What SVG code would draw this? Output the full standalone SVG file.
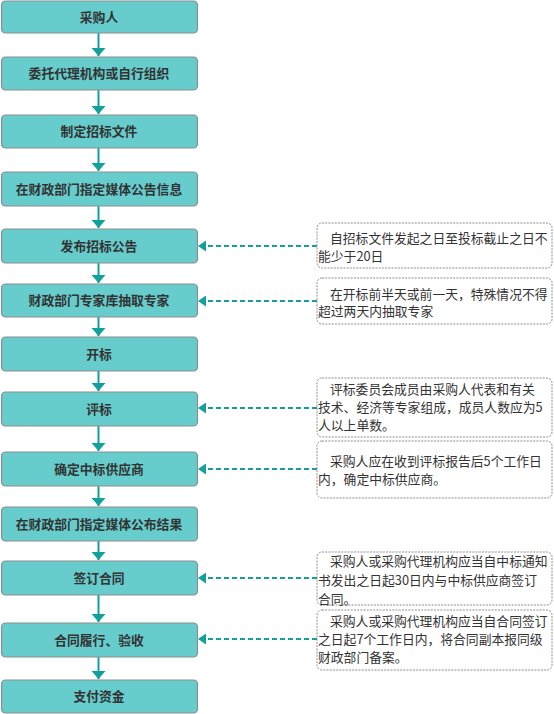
<svg xmlns="http://www.w3.org/2000/svg" width="554" height="714" viewBox="0 0 554 714">
<style>
.box{fill:#66CCCC;stroke:#8E8E8E;stroke-width:1.2}
.bt{font-family:"Noto Sans CJK SC","Noto Sans",sans-serif;font-size:12.8px;font-weight:bold;fill:#333;text-anchor:middle}
.note{fill:#fff;stroke:#8E8E8E;stroke-width:1;stroke-dasharray:2 1.2}
.nt{font-family:"Noto Sans CJK SC","Noto Sans",sans-serif;font-size:12.8px;fill:#333}
.va{stroke:#11A09C;stroke-width:2;fill:none;marker-end:url(#ah)}
.da{stroke:#11A09C;stroke-width:2;fill:none;stroke-dasharray:5 3;marker-end:url(#dh)}
</style>
<defs>
<marker id="ah" viewBox="0 0 10 10" refX="10" refY="5" markerWidth="8" markerHeight="14" markerUnits="userSpaceOnUse" orient="auto" preserveAspectRatio="none">
<path d="M0,0 L10,5 L0,10 z" fill="#11A09C"/>
</marker>
<marker id="dh" viewBox="0 0 10 10" refX="10" refY="5" markerWidth="8" markerHeight="11" markerUnits="userSpaceOnUse" orient="auto" preserveAspectRatio="none">
<path d="M0,0 L10,5 L0,10 z" fill="#11A09C"/>
</marker>
</defs>
<g id="connectors">
<line class="va" x1="98.5" y1="33" x2="98.5" y2="56"/>
<line class="va" x1="98.5" y1="90" x2="98.5" y2="114"/>
<line class="va" x1="98.5" y1="148" x2="98.5" y2="171"/>
<line class="va" x1="98.5" y1="206" x2="98.5" y2="228"/>
<line class="va" x1="98.5" y1="263" x2="98.5" y2="283"/>
<line class="va" x1="98.5" y1="317" x2="98.5" y2="336"/>
<line class="va" x1="98.5" y1="371" x2="98.5" y2="391"/>
<line class="va" x1="98.5" y1="426" x2="98.5" y2="451"/>
<line class="va" x1="98.5" y1="486" x2="98.5" y2="506"/>
<line class="va" x1="98.5" y1="541" x2="98.5" y2="560"/>
<line class="va" x1="98.5" y1="595" x2="98.5" y2="622"/>
<line class="va" x1="98.5" y1="657" x2="98.5" y2="679"/>
<line class="da" x1="317" y1="246" x2="198" y2="246"/>
<line class="da" x1="317" y1="301" x2="198" y2="301"/>
<line class="da" x1="317" y1="408" x2="198" y2="408"/>
<line class="da" x1="317" y1="469" x2="198" y2="469"/>
<line class="da" x1="317" y1="578" x2="198" y2="578"/>
<line class="da" x1="317" y1="639" x2="198" y2="639"/>
</g>
<g id="n1"><rect class="box" x="1.5" y="1" width="196" height="32" rx="4"/><text class="bt" x="99" y="21.5">采购人</text></g>
<g id="n2"><rect class="box" x="1.5" y="57" width="196" height="33" rx="4"/><text class="bt" x="99" y="78">委托代理机构或自行组织</text></g>
<g id="n3"><rect class="box" x="1.5" y="115" width="196" height="33" rx="4"/><text class="bt" x="99" y="136">制定招标文件</text></g>
<g id="n4"><rect class="box" x="1.5" y="172" width="196" height="34" rx="4"/><text class="bt" x="99" y="193.5">在财政部门指定媒体公告信息</text></g>
<g id="n5"><rect class="box" x="1.5" y="229" width="196" height="34" rx="4"/><text class="bt" x="99" y="250.5">发布招标公告</text></g>
<g id="n6"><rect class="box" x="1.5" y="284" width="196" height="33" rx="4"/><text class="bt" x="99" y="305">财政部门专家库抽取专家</text></g>
<g id="n7"><rect class="box" x="1.5" y="337" width="196" height="34" rx="4"/><text class="bt" x="99" y="358.5">开标</text></g>
<g id="n8"><rect class="box" x="1.5" y="392" width="196" height="34" rx="4"/><text class="bt" x="99" y="413.5">评标</text></g>
<g id="n9"><rect class="box" x="1.5" y="452" width="196" height="34" rx="4"/><text class="bt" x="99" y="473.5">确定中标供应商</text></g>
<g id="n10"><rect class="box" x="1.5" y="507" width="196" height="34" rx="4"/><text class="bt" x="99" y="528.5">在财政部门指定媒体公布结果</text></g>
<g id="n11"><rect class="box" x="1.5" y="561" width="196" height="34" rx="4"/><text class="bt" x="99" y="582.5">签订合同</text></g>
<g id="n12"><rect class="box" x="1.5" y="623" width="196" height="34" rx="4"/><text class="bt" x="99" y="644.5">合同履行、验收</text></g>
<g id="n13"><rect class="box" x="1.5" y="680" width="196" height="33" rx="4"/><text class="bt" x="99" y="701">支付资金</text></g>
<g id="note1"><rect class="note" x="317" y="223" width="235" height="45" rx="5"/>
<text class="nt" x="330" y="242.5">自招标文件发起之日至投标截止之日不</text>
<text class="nt" x="318" y="261">能少于20日</text></g>
<g id="note2"><rect class="note" x="317" y="278" width="235" height="46" rx="5"/>
<text class="nt" x="330" y="298.5">在开标前半天或前一天，特殊情况不得</text>
<text class="nt" x="318" y="316">超过两天内抽取专家</text></g>
<g id="note3"><rect class="note" x="317" y="378" width="235" height="59" rx="5"/>
<text class="nt" x="330" y="394">评标委员会成员由采购人代表和有关</text>
<text class="nt" x="318" y="411.5">技术、经济等专家组成，成员人数应为5</text>
<text class="nt" x="318" y="429.5">人以上单数。</text></g>
<g id="note4"><rect class="note" x="317" y="441" width="235" height="57" rx="5"/>
<text class="nt" x="330" y="466">采购人应在收到评标报告后5个工作日</text>
<text class="nt" x="318" y="483.5">内，确定中标供应商。</text></g>
<g id="note5"><rect class="note" x="317" y="552" width="235" height="53" rx="5"/>
<text class="nt" x="330" y="566">采购人或采购代理机构应当自中标通知</text>
<text class="nt" x="318" y="585">书发出之日起30日内与中标供应商签订</text>
<text class="nt" x="318" y="603.5">合同。</text></g>
<g id="note6"><rect class="note" x="317" y="610" width="235" height="60" rx="5"/>
<text class="nt" x="330" y="626">采购人或采购代理机构应当自合同签订</text>
<text class="nt" x="318" y="643.5">之日起7个工作日内，将合同副本报同级</text>
<text class="nt" x="318" y="661.5">财政部门备案。</text></g>
</svg>
